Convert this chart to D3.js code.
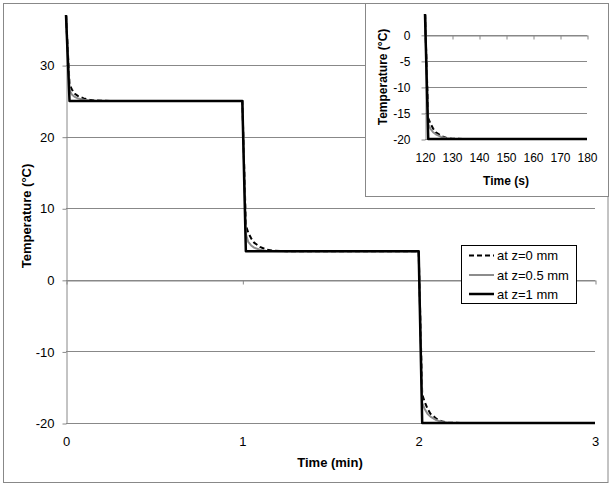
<!DOCTYPE html>
<html>
<head>
<meta charset="utf-8">
<script src="https://cdn.jsdelivr.net/npm/d3@7"></script>
<style>
  body { margin: 0; background: #fff; }
  svg text { font-family: "Liberation Sans", Arial, sans-serif; fill: #000; }
</style>
</head>
<body>
<div id="chart"></div>
<script>
// time in seconds, temperatures in degC
const timeSec = [0, 1.2, 2, 3, 4, 6, 8, 10, 15, 60, 61.2, 62, 63, 64, 66, 68, 70, 75, 120, 121.2, 122, 123, 124, 126, 128, 130, 135, 180];
const tempZ0  = [37, 27.3, 26.6, 26.0, 25.7, 25.35, 25.15, 25.05, 25, 25, 7.6, 6.6, 5.8, 5.2, 4.6, 4.25, 4.1, 4, 4, -16.0, -17.0, -18.0, -18.7, -19.4, -19.8, -19.95, -20, -20];
const tempZ05 = [37, 26.5, 25.9, 25.55, 25.35, 25.15, 25.05, 25.01, 25, 25, 6.4, 5.3, 4.8, 4.5, 4.2, 4.07, 4.02, 4, 4, -17.2, -18.0, -18.7, -19.1, -19.6, -19.85, -19.95, -20, -20];
const tempZ1  = [37, 25, 25, 25, 25, 25, 25, 25, 25, 25, 4, 4, 4, 4, 4, 4, 4, 4, 4, -20, -20, -20, -20, -20, -20, -20, -20, -20];
const seriesNames = ['at z=0 mm', 'at z=0.5 mm', 'at z=1 mm'];

const mainXTicks = [0, 1, 2, 3];
const mainYTicks = [-20, -10, 0, 10, 20, 30];
const insetXTicks = [120, 130, 140, 150, 160, 170, 180];
const insetYTicks = [-20, -15, -10, -5, 0];

const W = 613, H = 486;
const gridColor = '#888';
const fmt = d => String(d); // plain hyphen minus, no decimals

const series = [tempZ0, tempZ05, tempZ1].map((vals, i) => ({
  name: seriesNames[i],
  values: timeSec.map((t, j) => ({ t: t, v: vals[j] }))
}));
const styles = [
  { stroke: '#000', width: 2, dash: '5,3' },
  { stroke: '#8c8c8c', width: 2, dash: null },
  { stroke: '#000', width: 2.5, dash: null }
];

const svg = d3.select('#chart').append('svg')
  .attr('width', W).attr('height', H);

svg.append('rect')
  .attr('x', 3.5).attr('y', 3.5).attr('width', 604.5).attr('height', 479)
  .attr('fill', '#fff').attr('stroke', gridColor);

function drawPanel(cfg) {
  const g = svg.append('g');
  const x = d3.scaleLinear().domain(cfg.xDomain).range([cfg.left, cfg.right]);
  const y = d3.scaleLinear().domain(cfg.yDomain).range([cfg.bottom, cfg.top]);

  // gridlines
  g.selectAll('.grid').data(cfg.yTicks).join('line')
    .attr('x1', cfg.left).attr('x2', cfg.right)
    .attr('y1', d => Math.round(y(d)) + 0.5).attr('y2', d => Math.round(y(d)) + 0.5)
    .attr('stroke', gridColor).attr('stroke-width', 1);

  // y axis
  const yAxis = g.append('g')
    .attr('transform', 'translate(' + (Math.round(cfg.left) + 0.5) + ',0.5)')
    .call(d3.axisLeft(y).tickValues(cfg.yTicks).tickFormat(fmt).tickSize(4).tickPadding(cfg.yPad).tickSizeOuter(0));
  yAxis.select('.domain').attr('stroke', gridColor);
  yAxis.selectAll('line').attr('stroke', gridColor);
  yAxis.selectAll('text').attr('font-size', cfg.fs).attr('font-family', '"Liberation Sans", Arial, sans-serif');

  // x axis tick marks where it crosses y = 0
  const xCross = g.append('g')
    .attr('transform', 'translate(0.5,' + (Math.round(y(0)) + 0.5) + ')')
    .call(d3.axisBottom(x).tickValues(cfg.xTicks).tickSize(4).tickFormat('').tickSizeOuter(0));
  xCross.select('.domain').attr('stroke', gridColor);
  xCross.selectAll('line').attr('stroke', gridColor);

  // x labels at the bottom
  const xLab = g.append('g')
    .attr('transform', 'translate(0,' + cfg.bottom + ')')
    .call(d3.axisBottom(x).tickValues(cfg.xTicks).tickFormat(fmt).tickSize(0).tickPadding(cfg.xPad));
  xLab.select('.domain').remove();
  xLab.selectAll('text').attr('font-size', cfg.fs).attr('font-family', '"Liberation Sans", Arial, sans-serif');

  const line = d3.line()
    .x(d => x(cfg.tx(d.t)))
    .y(d => y(d.v));

  series.forEach((s, i) => {
    g.append('path')
      .datum(s.values.filter(d => d.t >= cfg.tMin))
      .attr('fill', 'none')
      .attr('stroke', styles[i].stroke)
      .attr('stroke-width', styles[i].width)
      .attr('stroke-dasharray', styles[i].dash)
      .attr('stroke-linejoin', 'round')
      .attr('d', line);
  });

  g.append('text')
    .attr('x', cfg.xTitle[0]).attr('y', cfg.xTitle[1])
    .attr('text-anchor', 'middle').attr('font-size', cfg.titleFs).attr('font-weight', 'bold')
    .text(cfg.xLabel);
  g.append('text')
    .attr('transform', 'translate(' + cfg.yTitle[0] + ',' + cfg.yTitle[1] + ') rotate(-90)')
    .attr('text-anchor', 'middle').attr('font-size', cfg.titleFs).attr('font-weight', 'bold')
    .text('Temperature (°C)');
  return g;
}

// main chart
drawPanel({
  xDomain: [0, 3], yDomain: [-20, 37],
  left: 66, right: 595, top: 15, bottom: 423,
  xTicks: mainXTicks, yTicks: mainYTicks,
  tx: t => t / 60, tMin: 0,
  fs: 13, titleFs: 13, xPad: 14, yPad: 8,
  xLabel: 'Time (min)', xTitle: [330, 467], yTitle: [31, 216]
});

// legend
const legend = svg.append('g');
legend.append('rect')
  .attr('x', 461.5).attr('y', 245.5).attr('width', 115).attr('height', 58)
  .attr('fill', '#fff').attr('stroke', '#000');
const legendY = [255.5, 275, 294];
seriesNames.forEach((name, i) => {
  legend.append('line')
    .attr('x1', 469).attr('x2', 494).attr('y1', legendY[i]).attr('y2', legendY[i])
    .attr('stroke', styles[i].stroke).attr('stroke-width', styles[i].width)
    .attr('stroke-dasharray', styles[i].dash);
  legend.append('text')
    .attr('x', 497).attr('y', legendY[i] + 4.5)
    .attr('font-size', 13)
    .text(name);
});

// inset
svg.append('rect')
  .attr('x', 365.5).attr('y', 3.5).attr('width', 243).attr('height', 193)
  .attr('fill', '#fff').attr('stroke', gridColor);

drawPanel({
  xDomain: [120, 180], yDomain: [-20, 4],
  left: 425, right: 587, top: 14, bottom: 139,
  xTicks: insetXTicks, yTicks: insetYTicks,
  tx: t => t, tMin: 120,
  fs: 12, titleFs: 12, xPad: 14.5, yPad: 11,
  xLabel: 'Time (s)', xTitle: [506, 185], yTitle: [387, 77]
});
</script>
</body>
</html>
